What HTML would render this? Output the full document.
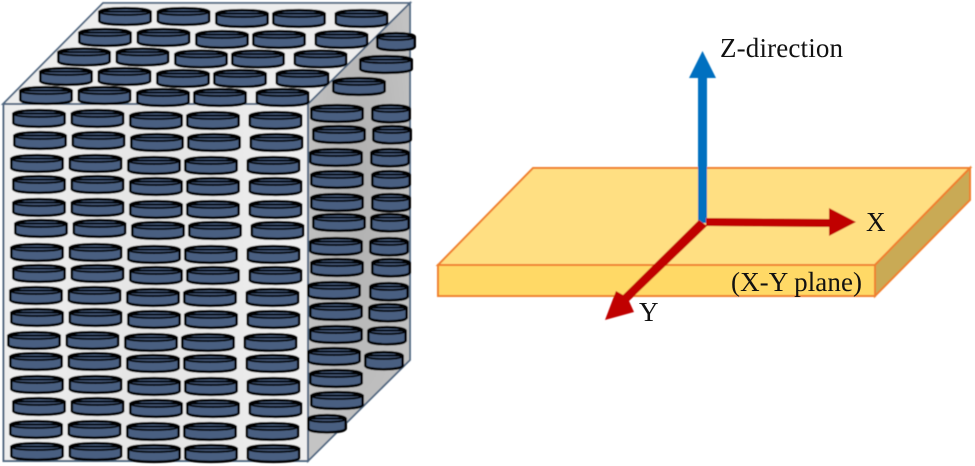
<!DOCTYPE html>
<html>
<head>
<meta charset="utf-8">
<style>
html,body{margin:0;padding:0;background:#fff;width:975px;height:466px;overflow:hidden}
svg{display:block}
text{font-family:"Liberation Serif",serif;fill:#111}
</style>
</head>
<body>
<svg width="975" height="466" viewBox="0 0 975 466" xmlns="http://www.w3.org/2000/svg">
<defs>
<linearGradient id="front" x1="0" y1="0" x2="1" y2="0">
<stop offset="0" stop-color="#efefef"/><stop offset="0.5" stop-color="#e4e4e4"/><stop offset="1" stop-color="#efefef"/>
</linearGradient>
<radialGradient id="side" cx="0.5" cy="0.4" r="0.65">
<stop offset="0" stop-color="#b0b0b0"/><stop offset="1" stop-color="#c4c4c4"/>
</radialGradient>
<g id="d">
<path d="M1.300,5 C1.300,2.500 13,1.200 27,1.200 C41,1.200 52.700,2.500 52.700,5 L52.700,14 C52.700,16.500 41,17.800 27,17.800 C13,17.800 1.300,16.500 1.300,14 Z" fill="#485f81" stroke="#060606" stroke-width="2.600" stroke-linejoin="round"/>
<path d="M1.300,4.500 C1.300,7 13,8 27,8 C41,8 52.700,7 52.700,4.500 Z" fill="#3f5372" stroke="#060606" stroke-width="1.900"/>
</g>
<g id="s">
<path d="M1.300,5 C1.300,2.600 10,1.200 20,1.200 C30,1.200 38.700,2.600 38.700,5 L38.700,14.500 C38.700,17 30,18.300 20,18.300 C10,18.300 1.300,17 1.300,14.500 Z" fill="#485f81" stroke="#060606" stroke-width="2.600" stroke-linejoin="round"/>
<path d="M1.300,4.500 C1.300,7 10,8 20,8 C30,8 38.700,7 38.700,4.500 Z" fill="#3f5372" stroke="#060606" stroke-width="1.900"/>
</g>
<g id="r">
<use href="#d" x="0" y="0"/><use href="#d" x="58.500" y="0"/><use href="#d" x="117" y="2"/><use href="#d" x="174" y="2"/><use href="#d" x="236.500" y="2"/>
</g>
<filter id="b" x="-2%" y="-2%" width="104%" height="104%"><feGaussianBlur stdDeviation="0.4"/></filter>
</defs>

<g filter="url(#b)">
<!-- faces -->
<polygon points="3,104 103,3 410,3 308,104" fill="#ededed" stroke="#4f6680" stroke-width="1.800"/>
<polygon points="308,104 410,3 410,360 308,461" fill="url(#side)" stroke="#4f6680" stroke-width="1.800"/>
<rect x="3.500" y="104" width="304.500" height="357" fill="url(#front)" stroke="#4f6680" stroke-width="2"/>

<!-- top face -->
<use href="#r" x="98" y="7"/>
<use href="#r" x="78" y="28"/>
<use href="#r" x="57" y="47.500"/>
<use href="#r" x="39" y="67"/>
<use href="#r" x="19" y="86"/>
<use href="#s" x="376" y="32"/>
<use href="#d" x="359" y="55"/>
<use href="#d" x="332" y="77"/>

<!-- front face -->
<use href="#r" x="12" y="109"/>
<use href="#r" x="13" y="131"/>
<use href="#r" x="10" y="154"/>
<use href="#r" x="12" y="175"/>
<use href="#r" x="12" y="198"/>
<use href="#r" x="14" y="219"/>
<use href="#r" x="10" y="243"/>
<use href="#r" x="12" y="264"/>
<use href="#r" x="9" y="286"/>
<use href="#r" x="10" y="308"/>
<use href="#r" x="7" y="331"/>
<use href="#r" x="9" y="352"/>
<use href="#r" x="10" y="375"/>
<use href="#r" x="12" y="397"/>
<use href="#r" x="9" y="420"/>
<use href="#r" x="10" y="442"/>

<!-- side face, column A -->
<use href="#d" x="310" y="104"/>
<use href="#d" x="312" y="125"/>
<use href="#d" x="309" y="148"/>
<use href="#d" x="310" y="170"/>
<use href="#d" x="310" y="193"/>
<use href="#d" x="312" y="213"/>
<use href="#d" x="309" y="237"/>
<use href="#d" x="310" y="258"/>
<use href="#d" x="307" y="281"/>
<use href="#d" x="309" y="302"/>
<use href="#d" x="309" y="325"/>
<use href="#d" x="307" y="347"/>
<use href="#d" x="309" y="369"/>
<use href="#d" x="310" y="391"/>
<use href="#s" x="307" y="414"/>

<!-- side face, column B -->
<use href="#s" x="371" y="104"/>
<use href="#s" x="372" y="125"/>
<use href="#s" x="370" y="148"/>
<use href="#s" x="371" y="170"/>
<use href="#s" x="371" y="193"/>
<use href="#s" x="370" y="213"/>
<use href="#s" x="369" y="237"/>
<use href="#s" x="371" y="258"/>
<use href="#s" x="369" y="282"/>
<use href="#s" x="368" y="303"/>
<use href="#s" x="367" y="326"/>
<use href="#s" x="364" y="351"/>
</g>

<g filter="url(#b)">
<!-- plate -->
<polygon points="533,168 970,168 875,265 438,265" fill="#ffdf82" stroke="#f0802e" stroke-width="2"/>
<polygon points="875,265 970,168 970,200 875,296" fill="#c9aa55" stroke="#f0802e" stroke-width="2"/>
<rect x="438" y="265" width="437" height="31" fill="#ffd966" stroke="#f0802e" stroke-width="2"/>

<!-- Z arrow -->
<rect x="698" y="77" width="9" height="146" fill="#0070c0"/>
<polygon points="702.500,51 716,78 689,78" fill="#0070c0"/>
<!-- X arrow -->
<polygon points="706,218 829,219 829,208 856,222 829,236 829,227 706,226" fill="#c00000"/>
<!-- Y arrow -->
<polygon points="699,220 707,226 629,301 634,312 605,320 616,291 623,295" fill="#c00000"/>
</g>

<text x="720" y="57" font-size="27" textLength="123">Z-direction</text>
<text x="866" y="231" font-size="27">X</text>
<text x="639" y="321" font-size="27">Y</text>
<text x="731" y="291" font-size="27" textLength="131">(X-Y plane)</text>
</svg>
</body>
</html>
